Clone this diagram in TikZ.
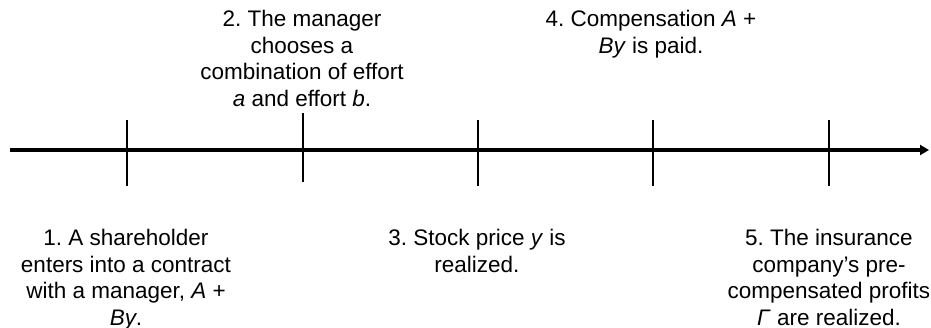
\documentclass[tikz,border=0pt]{standalone}
\usepackage{fontspec}
\setmainfont{Liberation Sans}
\usetikzlibrary{arrows.meta,positioning}

\tikzset{
  event/.style={align=center,inner sep=0pt,font=\fontsize{12.8}{15.1}\selectfont},
  tick/.style={line width=1.6pt},
  axis/.style={line width=2pt,-{Triangle[length=0.18cm,width=0.2cm]}}
}

\begin{document}
\frenchspacing
\begin{tikzpicture}[x=0.02cm,y=-0.02cm]
\useasboundingbox (0,0) rectangle (931,328);
% time axis
\coordinate (start) at (10,150);
\coordinate (end) at (929,150);
\draw[axis] (start) -- (end);
% ticks
\foreach \n/\x in {1/127,3/478,4/653,5/829}{
  \coordinate (t\n top) at (\x,120);
  \coordinate (t\n bot) at (\x,186);
  \draw[tick] (t\n top) -- (t\n bot);
}
\coordinate (t2top) at (303,113);
\coordinate (t2bot) at (303,182);
\draw[tick] (t2top) -- (t2bot);
% events
\node[event,anchor=north] (e2) at (302,10) {2. The manager\\chooses a\\combination of effort\\\textit{a} and effort \textit{b}.};
\node[event,anchor=north] (e4) at (651,10) {4. Compensation \textit{A} +\\\textit{By} is paid.};
\node[event,anchor=north] (e1) at (126,229) {1. A shareholder\\enters into a contract\\with a manager, \textit{A} +\\\textit{By}.};
\node[event,anchor=north] (e3) at (477,229) {3. Stock price \textit{y} is\\realized.};
\node[event,anchor=north] (e5) at (829,229) {5. The insurance\\company’s pre-\\compensated profits\\\textit{Γ} are realized.};
\end{tikzpicture}
\end{document}
